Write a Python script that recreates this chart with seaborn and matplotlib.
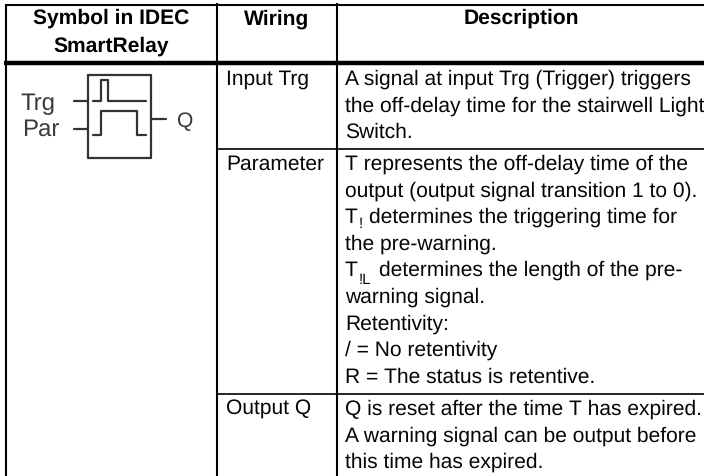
import matplotlib
matplotlib.use("Agg")
import matplotlib.pyplot as plt
import seaborn as sns
import pandas as pd

sns.set_theme(style="white")
plt.rcParams['font.family'] = ['Liberation Sans', 'DejaVu Sans']
plt.rcParams['text.hinting'] = 'no_hinting'
plt.rcParams['text.hinting_factor'] = 1

headers = [["Symbol in IDEC", "SmartRelay"], ["Wiring"], ["Description"]]
wiring = ["Input Trg", "Parameter", "Output Q"]
desc_input = ["A signal at input Trg (Trigger) triggers",
              "the off-delay time for the stairwell Light",
              "Switch."]
desc_param = ["T represents the off-delay time of the",
              "output (output signal transition 1 to 0).",
              None,
              "the pre-warning.",
              None,
              "warning signal.",
              "Retentivity:",
              "/ = No retentivity",
              "R = The status is retentive."]
sub_lines = {2: ("T", "!", "determines the triggering time for", 369, 7),
             4: ("T", "!L", "determines the length of the pre-", 379, 10)}
desc_output = ["Q is reset after the time T has expired.",
               "A warning signal can be output before",
               "this time has expired."]

fig = plt.figure(figsize=(7.04, 4.76), dpi=100)
ax = fig.add_axes([0, 0, 1, 1])
ax.set_xlim(0, 704)
ax.set_ylim(476, 0)
ax.axis("off")

BLACK = "black"
TXT = "#050505"
FS = 14.9
# table rules
ax.hlines(5.2, 5, 704, color=BLACK, lw=1.5)
ax.hlines(63.3, 4, 704, color=BLACK, lw=3.2)
ax.hlines(149, 217, 704, color=BLACK, lw=1.2)
ax.hlines(393.5, 217, 704, color=BLACK, lw=1.2)
ax.vlines(6, 5, 476, color=BLACK, lw=1.5)
ax.vlines(217, 3, 476, color=BLACK, lw=1.5)
ax.vlines(337, 3, 476, color=BLACK, lw=1.5)

# header
kw = dict(ha="center", va="center_baseline", fontsize=15.1, weight="bold", color=BLACK)
ax.text(111, 16.5, headers[0][0], **kw)
ax.text(111, 44, headers[0][1], **kw)
ax.text(277, 16.5, headers[1][0], **kw)
ax.text(521, 16.5, headers[2][0], **kw)

# body text
body = dict(ha="left", va="center_baseline", fontsize=FS, color=TXT)
for y, label in zip([77, 162, 407], wiring):
    ax.text(226, y, label, **body)
LH = 26.6
for y0, lines in [(77, desc_input), (162, desc_param), (407, desc_output)]:
    for i, line in enumerate(lines):
        y = y0 + i * LH
        if line is None:
            base, sub, rest, xrest, drop = sub_lines[i]
            ax.text(345, y, base, **body)
            ax.text(358.5, y + drop, sub, ha="left", va="center_baseline", fontsize=10.5, color=TXT)
            ax.text(xrest, y, rest, **body)
        else:
            ax.text(345, y, line, **body)

# function-block symbol
GREY = "#333333"
symbol = {
    "box": ([88, 151, 151, 88, 88], [75, 75, 158, 158, 75]),
    "trg": ([93, 101, 101, 108, 108, 146], [100.5, 100.5, 80, 80, 100.5, 100.5]),
    "par": ([93, 101, 101, 137, 137, 146], [135, 135, 111, 111, 135, 135]),
    "lead1": ([74, 88], [101, 101]),
    "lead2": ([74, 88], [129, 129]),
    "leadq": ([151, 166], [119, 119]),
}
for name, (xs, ys) in symbol.items():
    df = pd.DataFrame({"x": xs, "y": ys})
    sns.lineplot(data=df, x="x", y="y", sort=False, estimator=None, ax=ax,
                 color=GREY, lw=1.6, legend=False)
ax.set_xlim(0, 704)
ax.set_ylim(476, 0)
ax.text(20, 110, "Trg", fontsize=17.5, color="#3a3a3a", va="baseline")
ax.text(22, 136, "Par", fontsize=17.5, color="#3a3a3a", va="baseline")
ax.text(177, 127.5, "Q", fontsize=15, color="#3a3a3a", va="baseline")

fig.savefig("out.png", dpi=100)
